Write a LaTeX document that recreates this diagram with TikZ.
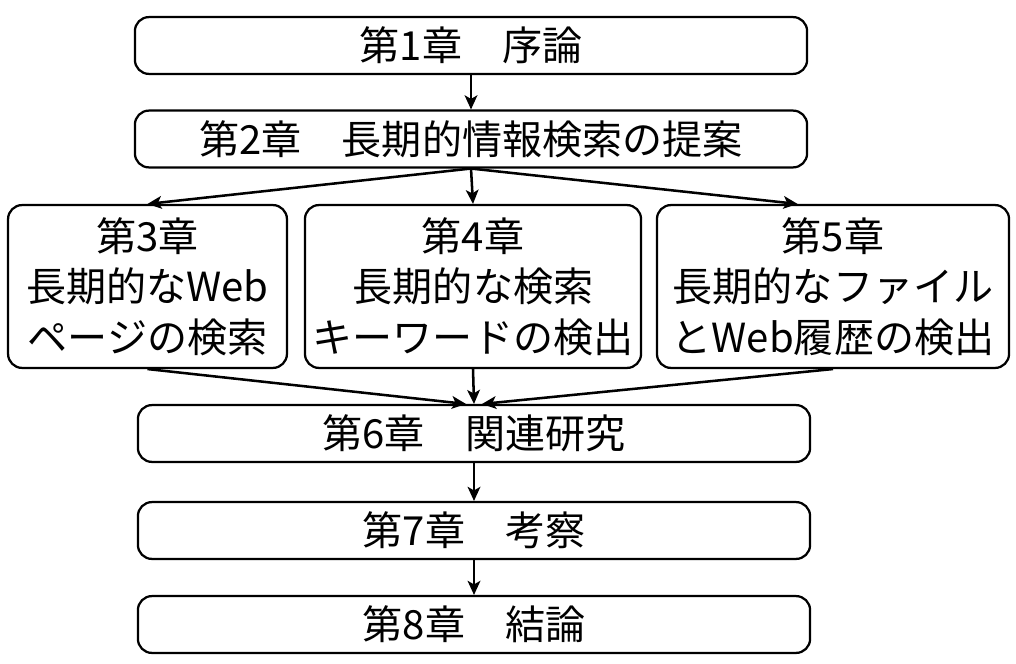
\documentclass[tikz,border=0pt]{standalone}
\usepackage{fontspec}
\setmainfont{Noto Sans CJK JP}
\usetikzlibrary{calc,positioning,arrows,arrows.meta}

\begin{document}
\begin{tikzpicture}
 [x=0.025cm,y=-0.025cm,
% Chapter boxes style
    chap/.style={rectangle,rounded corners=0.35cm,draw,line width=1.6pt,
        minimum width=16.8cm,minimum height=1.42cm,inner sep=0pt,
        font=\fontsize{28.5}{36}\selectfont},
    part/.style={chap,minimum height=4.07cm,align=center},
% Arrow style
    link/.style={line width=1.8pt,-{Stealth[length=10pt,width=9pt,inset=2.5pt]}}
 ]
 \useasboundingbox (0,0) rectangle (1016,663);
%% Draw chapters
 \node (c1) [chap] at (471,45.5)  {第1章　序論};
 \node (c2) [chap] at (471,139)   {第2章　長期的情報検索の提案};
 \node (c3) [part,minimum width=6.97cm] at (147.5,286.5)
            {第3章\\長期的なWeb\\ページの検索};
 \node (c4) [part,minimum width=8.4cm]  at (473,286.5)
            {第4章\\長期的な検索\\キーワードの検出};
 \node (c5) [part,minimum width=8.8cm]  at (833,286.5)
            {第5章\\長期的なファイル\\とWeb履歴の検出};
 \node (c6) [chap] at (474,433.5) {第6章　関連研究};
 \node (c7) [chap] at (474,530.5) {第7章　考察};
 \node (c8) [chap] at (474,624.5) {第8章　結論};
%% Draw arrows
 \draw [link] (c1) -- (c2);
 \draw [link] (c2.south) -- (c3.north);
 \draw [link] (c2.south) -- (c4.north);
 \draw [link] (c2.south) -- ($(c5.north west)!0.4!(c5.north east)$);
 \draw [link] (c3.south) -- ([xshift=-0.2cm]c6.north);
 \draw [link] (c4.south) -- (c6.north);
 \draw [link] (c5.south) -- ([xshift=0.2cm]c6.north);
 \draw [link] (c6) -- (c7);
 \draw [link] (c7) -- (c8);
\end{tikzpicture}
\end{document}
